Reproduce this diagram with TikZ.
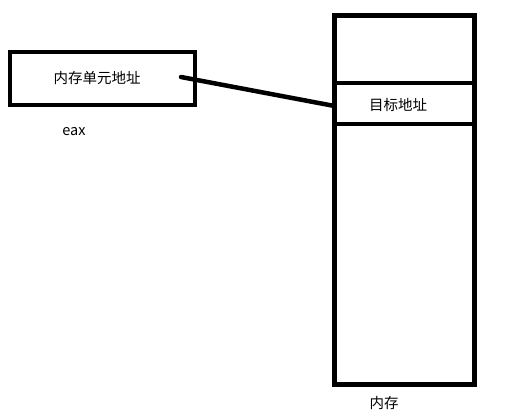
\documentclass[tikz,border=0pt]{standalone}
\usepackage{fontspec}
\setmainfont{Noto Sans CJK SC}
\begin{document}
\begin{tikzpicture}[x=1pt,y=-1pt,
  cell/.style={draw=black,line width=4.5pt,minimum width=140pt,inner sep=0pt,outer sep=0pt,anchor=north west,font=\fontsize{14.5}{16}\selectfont},
  lbl/.style={font=\fontsize{14.5}{16}\selectfont,inner sep=0pt},
  link/.style={line width=4.5pt,line cap=round}]
\useasboundingbox (0,0) rectangle (516,418);
\fill[white] (0,0) rectangle (516,418);
% register box
\node[cell,minimum width=185pt,minimum height=53pt] (reg) at (10,52) {};
\node[lbl] (regtxt) at (97,78) {内存单元地址};
\node[lbl] (eax) at (74,132) {eax};
% memory
\node[cell,minimum height=67.5pt] (top) at (334.5,15.5) {};
\node[cell,minimum height=41pt] (tgt) at (334.5,83) {};
\node[lbl] (tgttxt) at (398,105) {目标地址};
\node[cell,minimum height=260.5pt] (rest) at (334.5,124) {};
\node[lbl] (mem) at (384,403) {内存};
% connector
\coordinate (start) at (181,77);
\draw[link] (start) -- ([yshift=-2.5pt]tgt.west);
\end{tikzpicture}
\end{document}
